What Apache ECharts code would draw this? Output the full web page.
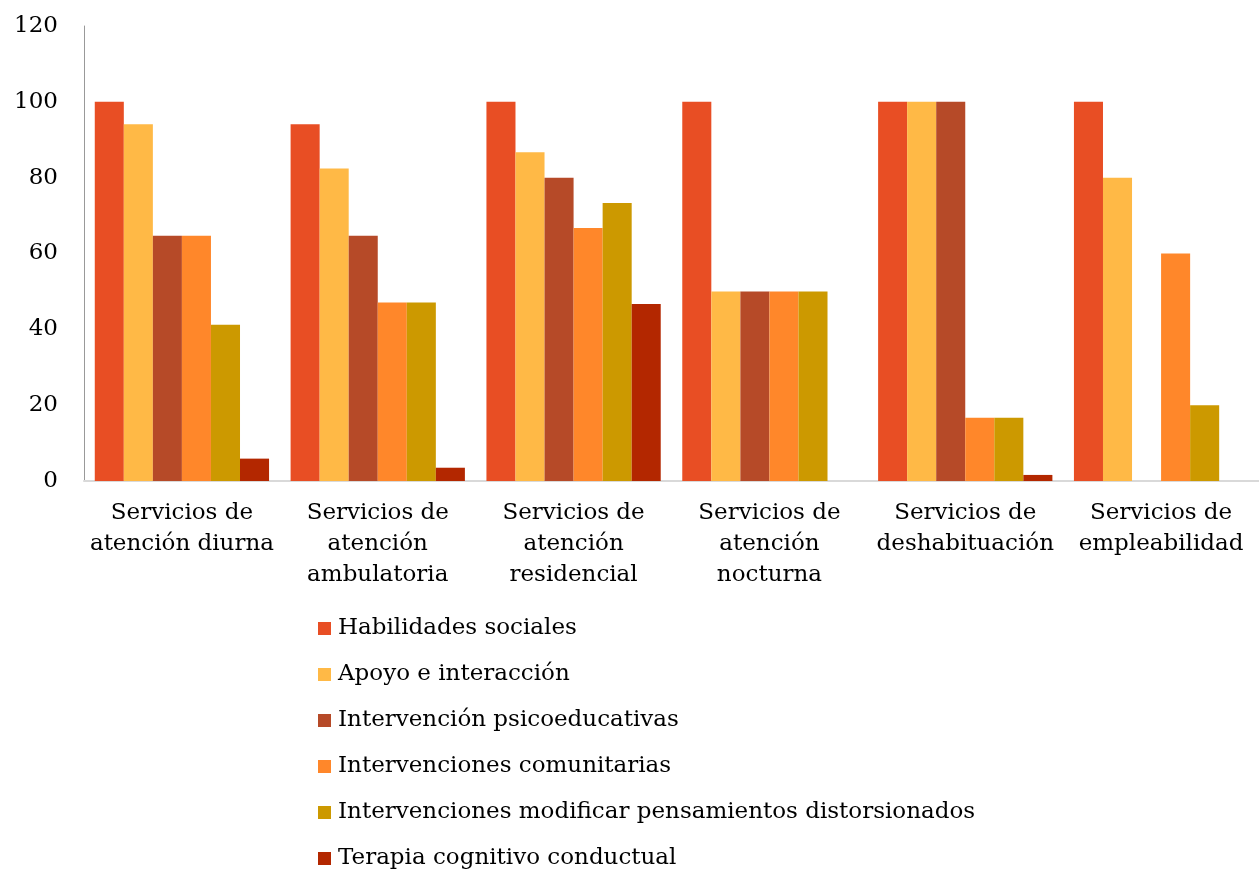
<!DOCTYPE html>
<html>
<head>
<meta charset="utf-8">
<title>Intervenciones por tipo de servicio</title>
<script src="https://cdn.jsdelivr.net/npm/echarts@6/dist/echarts.min.js"></script>
<style>
  html, body { margin: 0; padding: 0; background: #fff; }
  #chart { width: 1259px; height: 870px; }
</style>
</head>
<body>
<div id="chart"></div>
<script>
// categorías y valores (%)
const categories = [
  'Servicios de\natención diurna',
  'Servicios de\natención\nambulatoria',
  'Servicios de\natención\nresidencial',
  'Servicios de\natención\nnocturna',
  'Servicios de\ndeshabituación',
  'Servicios de\nempleabilidad'
]
const habilidades = [100, 94.1, 100, 100, 100, 100]
const apoyo = [94.1, 82.4, 86.7, 50, 100, 80]
const psicoeducativas = [64.7, 64.7, 80, 50, 100, 0]
const comunitarias = [64.7, 47.1, 66.7, 50, 16.7, 60]
const modificar = [41.2, 47.1, 73.3, 50, 16.7, 20]
const terapia = [5.9, 3.5, 46.7, 0, 1.6, 0]
const yTicks = [0, 20, 40, 60, 80, 100, 120]

const font = 'DejaVu Serif'
const chart = echarts.init(document.getElementById('chart'))

function bar(name, data, color) {
  return {
    name: name,
    type: 'bar',
    data: data,
    barGap: '0%',
    barCategoryGap: '11%',
    itemStyle: { color: color }
  }
}

chart.setOption({
  animation: false,
  textStyle: { fontFamily: font, color: '#000' },
  grid: {
    left: 84,
    top: 26,
    width: 1187,
    height: 455
  },
  legend: {
    orient: 'vertical',
    left: 318,
    top: 617,
    padding: 0,
    itemWidth: 13,
    itemHeight: 13,
    itemGap: 23,
    icon: 'rect',
    textStyle: { fontFamily: font, fontSize: 23, color: '#000', padding: [0, 0, 0, 2] }
  },
  xAxis: {
    type: 'category',
    data: categories,
    axisLine: { lineStyle: { color: '#d9d9d9', width: 2 } },
    axisTick: { show: false },
    axisLabel: {
      fontFamily: font,
      fontSize: 23,
      color: '#000',
      lineHeight: 31,
      margin: 17,
      interval: 0
    }
  },
  yAxis: {
    type: 'value',
    min: yTicks[0],
    max: yTicks[yTicks.length - 1],
    interval: 20,
    axisLine: { show: true, lineStyle: { color: '#999', width: 1 } },
    axisTick: { show: false },
    splitLine: { show: false },
    axisLabel: {
      fontFamily: font,
      fontSize: 23,
      color: '#000',
      margin: 26
    }
  },
  series: [
    bar('Habilidades sociales', habilidades, '#E84E24'),
    bar('Apoyo e interacción', apoyo, '#FFB946'),
    bar('Intervención psicoeducativas', psicoeducativas, '#B64A28'),
    bar('Intervenciones comunitarias', comunitarias, '#FF872A'),
    bar('Intervenciones modificar pensamientos distorsionados', modificar, '#CC9900'),
    bar('Terapia cognitivo conductual', terapia, '#B32700')
  ]
})
</script>
</body>
</html>
